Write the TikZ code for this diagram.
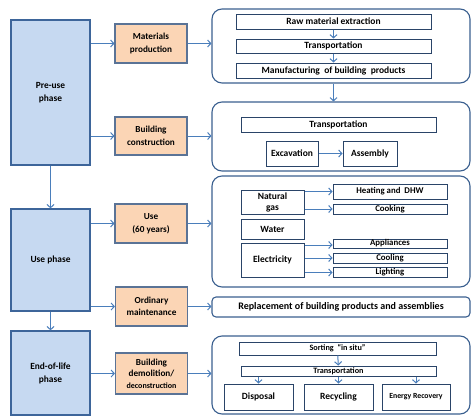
\documentclass[tikz,border=0pt]{standalone}
\usepackage{fontspec}
\setmainfont{Carlito}
\usetikzlibrary{arrows.meta}
\definecolor{phasefill}{HTML}{C6D9F1}
\definecolor{phaseline}{HTML}{3D659A}
\definecolor{stagefill}{HTML}{FBD5B5}
\definecolor{stageline}{HTML}{5A7396}
\definecolor{groupline}{HTML}{3A5F8F}
\definecolor{itemline}{HTML}{2A4468}
\definecolor{arrowblue}{HTML}{4A7EBB}
\begin{document}
\begin{tikzpicture}[x=1pt,y=-1pt,
  phase/.style={draw=phaseline, fill=phasefill, line width=1.3pt, align=center, inner sep=0pt, font=\bfseries\fontsize{9.4}{13}\selectfont},
  stage/.style={draw=stageline, fill=stagefill, line width=1.1pt, align=center, inner sep=0pt, minimum width=72pt, font=\bfseries\fontsize{9.2}{12.5}\selectfont},
  group/.style={draw=groupline, rounded corners=10pt, line width=1.1pt, inner sep=0pt, minimum width=258pt},
  item/.style={draw=itemline, line width=1pt, align=center, inner sep=0pt, font=\bfseries\fontsize{9.5}{11}\selectfont},
  small/.style={font=\bfseries\fontsize{8.8}{9}\selectfont},
  tiny/.style={font=\bfseries\fontsize{8.2}{9}\selectfont},
  arr/.style={-{Straight Barb[length=3.2pt,width=7pt]}, draw=arrowblue, line width=1pt}]
\useasboundingbox (0,0) rectangle (471,415);

\node [phase, minimum width=79pt, minimum height=145pt] (pre) at (50.5, 92.5) {Pre-use\\phase};
\node [phase, minimum width=79pt, minimum height=102pt] (use) at (50.5, 260) {Use phase};
\node [phase, minimum width=79pt, minimum height=84pt] (eol) at (50.5, 373) {End-of-life\\phase};

\node [stage, minimum height=39pt] (mat) at (151, 43.5) {Materials\\production};
\node [stage, minimum height=38pt] (bcon) at (151, 136) {Building\\construction};
\node [stage, minimum height=39pt] (usage) at (151, 223.5) {Use\\(60 years)};
\node [stage, minimum height=39pt] (maint) at (151.5, 306.5) {Ordinary\\maintenance};
\node [stage, minimum height=41pt, font=\bfseries\fontsize{9.2}{11.5}\selectfont] (demo) at (151.5, 373.5) {Building\\demolition/\\{\fontsize{8}{8}\selectfont deconstruction}};

\node [group, minimum height=74pt] (grpa) at (341, 46) {};
\node [group, minimum height=69pt] (grpb) at (341, 136.5) {};
\node [group, minimum height=111pt] (grpc) at (341, 231.5) {};
\node [group, minimum height=20pt, rounded corners=4pt, font=\bfseries\fontsize{10}{11}\selectfont] (rep) at (341, 307) {Replacement of building products and assemblies};
\node [group, minimum height=78pt] (grpd) at (341, 375) {};

\node [item, minimum width=195pt, minimum height=15pt] (raw) at (333.5, 21.5) {Raw material extraction};
\node [item, minimum width=195pt, minimum height=14pt] (trna) at (333.5, 46) {Transportation};
\node [item, minimum width=195pt, minimum height=15pt] (manu) at (333.5, 70.5) {Manufacturing\ \ of building\ \ products};

\node [item, minimum width=195pt, minimum height=15pt] (trnb) at (338.5, 124.5) {Transportation};
\node [item, minimum width=52pt, minimum height=25pt] (exc) at (292, 153.5) {Excavation};
\node [item, minimum width=54pt, minimum height=25pt] (asm) at (370, 153.5) {Assembly};

\node [item, minimum width=63pt, minimum height=24pt] (gas) at (272.5, 202) {Natural\\gas};
\node [item, minimum width=63pt, minimum height=20pt] (water) at (272.5, 229) {Water};
\node [item, minimum width=63pt, minimum height=34pt] (elec) at (272.5, 260) {Electricity};
\node [item, small, minimum width=114pt, minimum height=15pt] (heat) at (390, 191.5) {Heating and\ \ DHW};
\node [item, small, minimum width=114pt, minimum height=10pt] (cook) at (390, 209) {Cooking};
\node [item, small, minimum width=114pt, minimum height=9pt] (appl) at (390, 243.5) {Appliances};
\node [item, small, minimum width=114pt, minimum height=10pt] (cool) at (390, 258) {Cooling};
\node [item, small, minimum width=114pt, minimum height=10pt] (light) at (390, 272.5) {Lighting};

\node [item, tiny, minimum width=197pt, minimum height=13pt] (sort) at (337.5, 348.5) {Sorting\ \ ``in situ''};
\node [item, tiny, minimum width=195pt, minimum height=10pt] (trnc) at (338.5, 371) {Transportation};
\node [item, minimum width=69pt, minimum height=26pt] (disp) at (258.5, 397) {Disposal};
\node [item, minimum width=69pt, minimum height=26pt] (recy) at (338.5, 397) {Recycling};
\node [item, minimum width=68pt, minimum height=26pt, font=\bfseries\fontsize{7.8}{9}\selectfont] (ener) at (416, 397) {Energy Recovery};

\draw [arr] (pre) -- (use);
\draw [arr] (use) -- (eol);
\draw [arr] (pre.east |- mat) -- (mat);
\draw [arr] (pre.east |- bcon) -- (bcon);
\draw [arr] (use.east |- usage) -- (usage);
\draw [arr] (use.east |- maint) -- (maint);
\draw [arr] (eol.east |- demo) -- (demo);

\draw [arr] (mat) -- (mat -| grpa.west);
\draw [arr] (bcon) -- (bcon -| grpb.west);
\draw [arr] (usage) -- (usage -| grpc.west);
\draw [arr] (maint) -- (maint -| rep.west);
\draw [arr] (demo) -- (demo -| grpd.west);

\draw [arr] (raw) -- (trna);
\draw [arr] (trna) -- (manu);
\draw [arr] (grpa.south -| manu) -- (grpb.north -| manu);
\draw [arr] (exc) -- (asm);

\draw [arr] (gas.east |- heat) -- (heat);
\draw [arr] (gas.east |- cook) -- (cook);
\draw [arr] (elec.east |- 0,245) -- (appl.west |- 0,245);
\draw [arr] (elec.east |- cool) -- (cool);
\draw [arr] (elec.east |- light) -- (light);

\draw [arr] (sort) -- (trnc);
\draw [arr] (trnc.south -| disp) -- (disp);
\draw [arr] (trnc) -- (recy);
\draw [arr] (trnc.south -| ener) -- (ener);
\end{tikzpicture}
\end{document}
